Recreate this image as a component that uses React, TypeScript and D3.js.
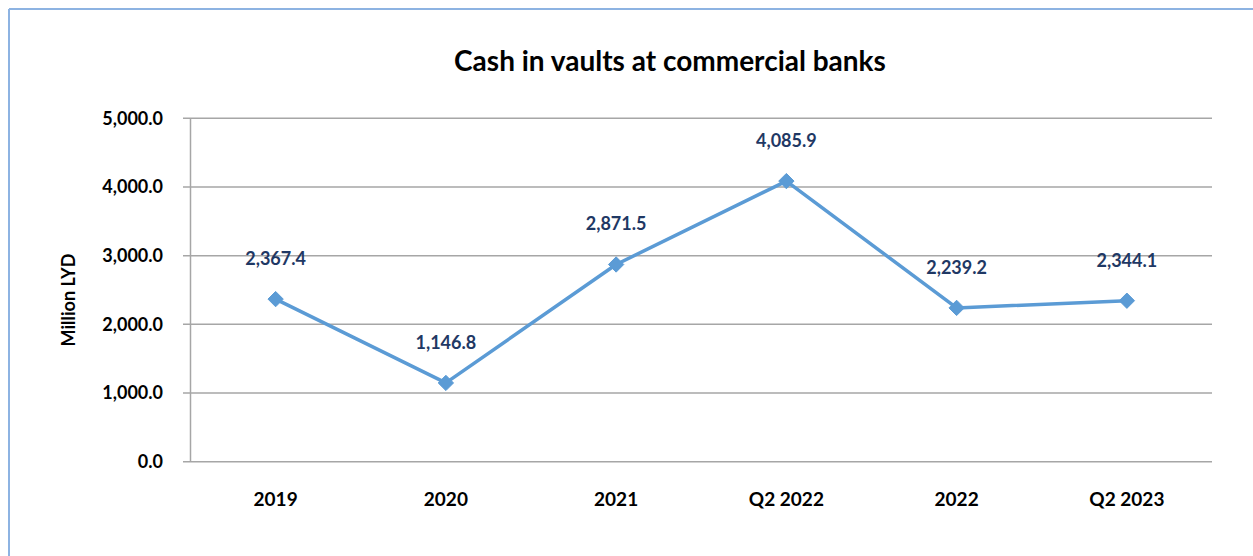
import React from "react";
import * as d3 from "d3";

const categories = ["2019", "2020", "2021", "Q2 2022", "2022", "Q2 2023"];
const values = [2367.4, 1146.8, 2871.5, 4085.9, 2239.2, 2344.1];
const yTicks = [0, 1000, 2000, 3000, 4000, 5000];
const title = "Cash in vaults at commercial banks";
const yTitle = "Million LYD";

const W = 1253;
const H = 556;
const FONT = "Lato, 'Open Sans', sans-serif";

export default function App() {
  const left = 190.5;
  const right = 1212;
  const top = 118.3;
  const bottom = 461.7;
  const x = d3.scaleBand<string>().domain(categories).range([left, right]);
  const y = d3.scaleLinear().domain([0, 5000]).range([bottom, top]);
  const fmt = d3.format(",.1f");
  const line = d3
    .line<number>()
    .x((_, i) => (x(categories[i]) as number) + x.bandwidth() / 2)
    .y((d) => y(d));
  const color = "#5B9BD5";
  const diamond = d3.symbol().type(d3.symbolDiamond2).size(150);

  return (
    <svg
      width={W}
      height={H}
      style={{ position: "absolute", left: 0, top: 0 }}
      viewBox={`0 0 ${W} ${H}`}
    >
      <rect x={0} y={0} width={W} height={H} fill="#fff" />
      <line x1={9} y1={9} x2={W} y2={9} stroke="#8DB3E2" strokeWidth={2} />
      <line x1={9} y1={9} x2={9} y2={H} stroke="#8DB3E2" strokeWidth={2} />
      <text
        x={670}
        y={71}
        textAnchor="middle"
        fontFamily={FONT}
        fontWeight="bold"
        fontSize={28}
        fill="#000"
      >
        {title}
      </text>
      {yTicks.map((t) => (
        <g key={t}>
          <line
            x1={183}
            x2={right}
            y1={y(t)}
            y2={y(t)}
            stroke="#A6A6A6"
            strokeWidth={1.5}
          />
          <text
            x={163}
            y={y(t)}
            dy="0.35em"
            textAnchor="end"
            fontFamily={FONT}
            fontWeight="bold"
            fontSize={18}
            fill="#000"
          >
            {fmt(t)}
          </text>
        </g>
      ))}
      <line x1={left} x2={left} y1={top} y2={bottom} stroke="#A6A6A6" strokeWidth={1.5} />
      {categories.map((c) => (
        <text
          key={c}
          x={(x(c) as number) + x.bandwidth() / 2}
          y={506}
          textAnchor="middle"
          fontFamily={FONT}
          fontWeight="bold"
          fontSize={19}
          fill="#000"
        >
          {c}
        </text>
      ))}
      <text
        transform={`translate(75,300) rotate(-90)`}
        textAnchor="middle"
        fontFamily={FONT}
        fontWeight="bold"
        fontSize={18}
        fill="#000"
      >
        {yTitle}
      </text>
      <path d={line(values) || ""} fill="none" stroke={color} strokeWidth={3.5} strokeLinejoin="round" />
      {values.map((v, i) => {
        const cx = (x(categories[i]) as number) + x.bandwidth() / 2;
        return (
          <g key={i}>
            <path
              d={diamond() || ""}
              transform={`translate(${cx},${y(v)})`}
              fill={color}
              stroke={color}
              strokeWidth={1}
            />
            <text
              x={cx}
              y={y(v) - 34}
              textAnchor="middle"
              fontFamily={FONT}
              fontWeight="bold"
              fontSize={18}
              fill="#1F3864"
            >
              {fmt(v)}
            </text>
          </g>
        );
      })}
    </svg>
  );
}
